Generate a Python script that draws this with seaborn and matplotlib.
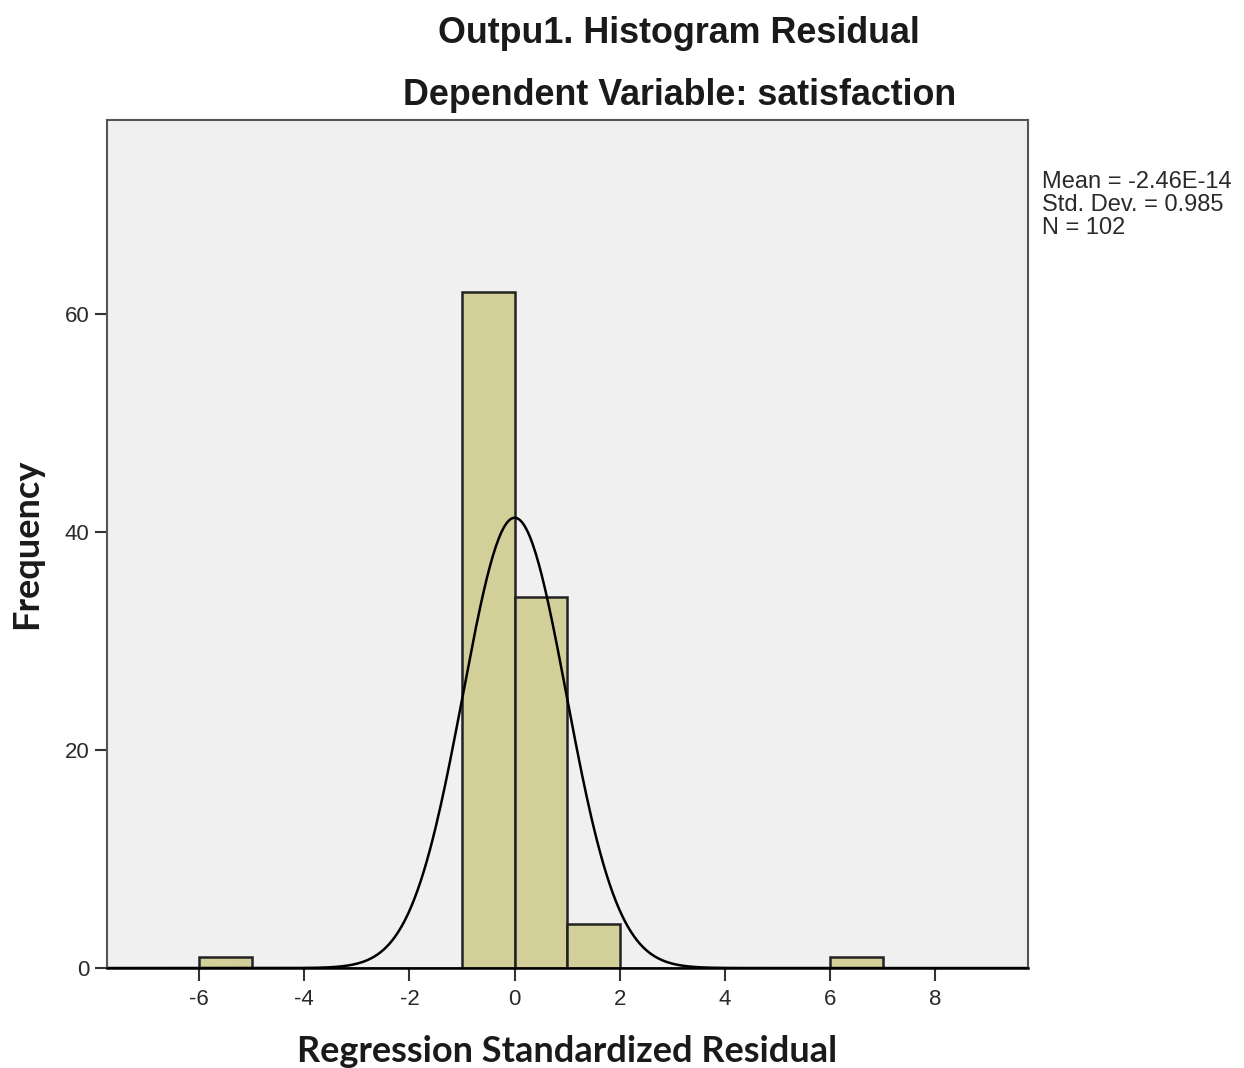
import numpy as np
import pandas as pd
import matplotlib
matplotlib.use("Agg")
import matplotlib.pyplot as plt
import seaborn as sns

# histogram bins (left edges) and counts
bin_left = [-6, -1, 0, 1, 6]
counts = [1, 62, 34, 4, 1]
mean_val = -2.46e-14
std_val = 0.985
n_total = 102
x_ticks = [-6, -4, -2, 0, 2, 4, 6, 8]
y_ticks = [0, 20, 40, 60]

df = pd.DataFrame({'resid': np.array(bin_left) + 0.5, 'count': counts})

sns.set_style('ticks')
plt.rcParams['font.family'] = ['Liberation Sans', 'DejaVu Sans']
plt.rcParams['axes.unicode_minus'] = False

fig = plt.figure(figsize=(12.44, 10.68), dpi=100)
ax = fig.add_axes([0.086, 0.0936, 0.740, 0.794])
ax.set_facecolor('#F0F0F0')

sns.histplot(data=df, x='resid', weights='count', binwidth=1, binrange=(-6, 7),
             color='#D3CF98', edgecolor='#222222', linewidth=1.8, alpha=1,
             ax=ax)

xs = np.linspace(-7.75, 9.75, 600)
ys = n_total * np.exp(-0.5 * ((xs - mean_val) / std_val) ** 2) / (std_val * np.sqrt(2 * np.pi))
ax.plot(xs, ys, color='black', linewidth=1.8)

ax.set_xlim(-7.75, 9.75)
ax.set_ylim(0, 77.8)
ax.set_xticks(x_ticks)
ax.set_yticks(y_ticks)
ax.tick_params(axis='both', direction='out', length=9, width=1.5, labelsize=16,
               color='#333333', labelcolor='#2a2a2a')
ax.tick_params(axis='x', pad=6)
for s in ax.spines.values():
    s.set_visible(True)
    s.set_color('#555555')
    s.set_linewidth(1.5)
ax.spines['bottom'].set_color('black')
ax.spines['bottom'].set_linewidth(1.8)

ax.set_xlabel('Regression Standardized Residual', fontsize=26, fontweight='bold',
              family=['Lato', 'DejaVu Sans'], labelpad=18, color='#1a1a1a')
ax.set_ylabel('Frequency', fontsize=26, fontweight='bold',
              family=['Lato', 'DejaVu Sans'], labelpad=16, color='#1a1a1a')

fig.text(0.546, 0.969, 'Outpu1. Histogram Residual', ha='center', va='center',
         fontsize=25.8, fontweight='bold', color='#1a1a1a')
fig.text(0.546, 0.911, 'Dependent Variable: satisfaction', ha='center', va='center',
         fontsize=25.8, fontweight='bold', color='#1a1a1a')

stats = f'Mean = -2.46E-14\nStd. Dev. = {std_val}\nN = {n_total}'
fig.text(0.838, 0.840, stats, ha='left', va='top', fontsize=17, linespacing=1.05,
         color='#2a2a2a')

fig.savefig('out.png', dpi=100)
